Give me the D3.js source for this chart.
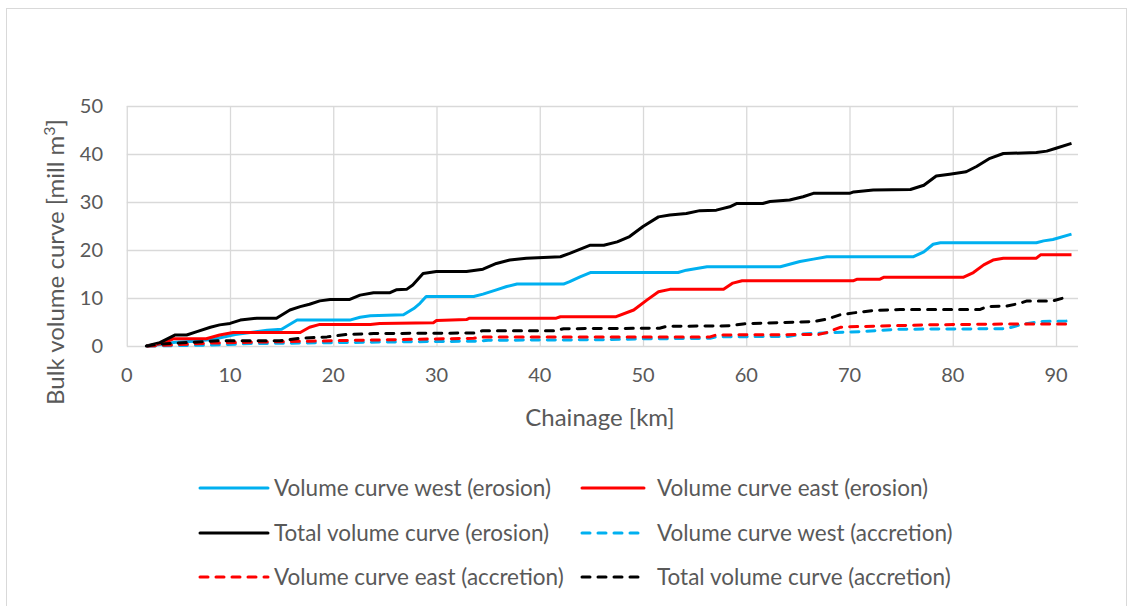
<!DOCTYPE html>
<html>
<head>
<meta charset="utf-8">
<script src="https://cdn.jsdelivr.net/npm/d3@7"></script>
<style>
  body { margin: 0; background: #fff; }
  svg { display: block; font-family: Lato, Calibri, sans-serif; }
  .tick-label, .legend-label, .axis-title { fill: #595959; }
</style>
</head>
<body>
<div id="chart"></div>
<script>
// [chainage km, cumulative volume mill m3]
const westErosion = [
  [2.0, 0], [3.2, 0.3], [4.7, 0.8], [6.5, 1.0], [8.4, 1.4], [10.5, 2.4], [13.6, 3.3], [15.0, 3.5],
  [16.5, 5.4], [21.6, 5.4], [22.6, 6.0], [23.6, 6.3], [26.8, 6.5], [27.8, 7.8], [28.4, 8.9],
  [29.0, 10.3], [33.6, 10.3], [34.5, 10.8], [35.8, 11.7], [36.8, 12.4], [37.8, 12.9], [42.3, 12.9],
  [42.9, 13.4], [43.9, 14.4], [44.9, 15.3], [53.4, 15.3], [54.2, 15.8], [56.2, 16.5], [63.3, 16.5],
  [65.2, 17.6], [66.5, 18.1], [67.8, 18.6], [76.2, 18.6], [77.2, 19.6], [78.1, 21.2], [78.8, 21.5],
  [88.1, 21.5], [88.8, 21.9], [89.7, 22.2], [91.5, 23.3]
];
const eastErosion = [
  [2.0, 0], [3.5, 0.55], [4.5, 1.5], [7.7, 1.5], [9.0, 2.3], [10.3, 2.8], [16.8, 2.8], [17.7, 3.9],
  [18.7, 4.5], [23.6, 4.5], [24.5, 4.7], [29.7, 4.85], [30.0, 5.3], [32.9, 5.5], [33.2, 5.8],
  [41.6, 5.8], [42.0, 6.1], [47.4, 6.1], [49.1, 7.5], [50.4, 9.6], [51.5, 11.3], [52.6, 11.8],
  [57.8, 11.8], [58.7, 13.1], [59.6, 13.6], [70.4, 13.6], [70.7, 13.9], [72.9, 13.9], [73.3, 14.3],
  [81.0, 14.3], [82.0, 15.3], [83.0, 16.9], [83.9, 17.9], [84.9, 18.3], [88.1, 18.3], [88.5, 19.0],
  [91.5, 19.0]
];
const totalErosion = [
  [1.9, 0], [3.2, 0.7], [4.7, 2.3], [5.8, 2.3], [6.8, 3.0], [8.1, 3.9], [9.0, 4.4], [10.0, 4.7],
  [11.0, 5.4], [12.6, 5.8], [14.5, 5.8], [15.8, 7.5], [16.8, 8.2], [17.7, 8.7], [18.7, 9.4],
  [19.7, 9.7], [21.6, 9.7], [22.6, 10.6], [23.9, 11.1], [25.5, 11.1], [26.1, 11.7], [27.1, 11.8],
  [27.7, 12.7], [28.7, 15.1], [30.0, 15.5], [32.9, 15.5], [34.5, 16.0], [35.8, 17.2], [37.1, 17.9],
  [38.7, 18.3], [42.0, 18.6], [42.9, 19.3], [44.9, 21.0], [46.2, 21.0], [47.5, 21.7], [48.7, 22.8],
  [50.0, 24.9], [51.5, 26.9], [52.6, 27.3], [54.2, 27.6], [55.5, 28.2], [57.1, 28.3], [58.4, 29.0],
  [59.1, 29.7], [61.6, 29.7], [62.3, 30.1], [64.2, 30.4], [65.5, 31.1], [66.5, 31.8], [70.0, 31.8],
  [70.4, 32.1], [72.3, 32.5], [75.9, 32.6], [77.2, 33.5], [78.4, 35.4], [79.7, 35.8], [81.3, 36.3],
  [82.3, 37.4], [83.6, 39.1], [84.9, 40.1], [88.1, 40.3], [89.1, 40.6], [90.0, 41.2], [91.5, 42.2]
];
const westAccretion = [
  [2.0, 0], [8.0, 0.2], [12.0, 0.5], [20.0, 0.7], [28.0, 0.9], [34.0, 1.0], [35.0, 1.2], [46.0, 1.3],
  [50.0, 1.5], [56.5, 1.6], [57.1, 1.9], [64.0, 2.0], [65.5, 2.5], [68.4, 2.8], [71.0, 3.0],
  [74.9, 3.5], [85.2, 3.6], [86.5, 4.4], [88.5, 5.1], [91.5, 5.2]
];
const eastAccretion = [
  [2.0, 0], [5.0, 0.3], [8.0, 0.6], [15.0, 0.9], [20.0, 1.1], [28.0, 1.4], [33.6, 1.6], [34.5, 1.9],
  [56.5, 1.9], [57.1, 2.3], [67.0, 2.4], [67.8, 2.8], [69.1, 3.9], [70.0, 4.0], [77.5, 4.4],
  [86.5, 4.6], [91.5, 4.6]
];
const totalAccretion = [
  [1.9, 0], [3.2, 0.4], [9.0, 1.1], [14.8, 1.1], [16.8, 1.6], [19.4, 1.9], [21.3, 2.4], [23.9, 2.6],
  [33.6, 2.7], [34.5, 3.2], [41.6, 3.2], [42.3, 3.6], [51.6, 3.7], [52.3, 4.1], [58.4, 4.2],
  [59.7, 4.6], [62.0, 4.8], [66.5, 5.1], [67.8, 5.6], [69.1, 6.5], [70.4, 6.9], [72.3, 7.4],
  [74.9, 7.6], [82.6, 7.6], [83.3, 8.2], [85.2, 8.3], [86.5, 8.9], [87.2, 9.4], [89.7, 9.4],
  [90.7, 10.0]
];

const xTicks = [0, 10, 20, 30, 40, 50, 60, 70, 80, 90];
const yTicks = [0, 10, 20, 30, 40, 50];

const seriesNames = [
  'Volume curve west (erosion)', 'Volume curve east (erosion)', 'Total volume curve (erosion)',
  'Volume curve west (accretion)', 'Volume curve east (accretion)', 'Total volume curve (accretion)'
];
const seriesData = [westErosion, eastErosion, totalErosion, westAccretion, eastAccretion, totalAccretion];
const seriesColors = ['#00B0F0', '#FF0000', '#000000', '#00B0F0', '#FF0000', '#000000'];
const seriesDashed = [false, false, false, true, true, true];

const width = 1134;
const height = 606;
const margin = { top: 106, right: 56, bottom: 260, left: 126.75 };
const DASH = '8 8';

const svg = d3.select('#chart')
  .append('svg')
  .attr('width', width)
  .attr('height', height);

// chart area frame
svg.append('rect')
  .attr('x', 6.5).attr('y', 8.5)
  .attr('width', 1120).attr('height', 610)
  .attr('fill', 'none')
  .attr('stroke', '#d9d9d9');

const xScale = d3.scaleLinear()
  .domain([0, 92.13])
  .range([margin.left, width - margin.right]);

const yScale = d3.scaleLinear()
  .domain([0, 50])
  .range([height - margin.bottom, margin.top]);

// gridlines
const gridY = svg.append('g')
  .attr('transform', `translate(${margin.left},0)`)
  .call(d3.axisLeft(yScale).tickValues(yTicks).tickFormat('')
    .tickSize(-(xScale.range()[1] - margin.left)));
gridY.select('.domain').remove();
gridY.selectAll('line').attr('stroke', '#d9d9d9').attr('stroke-width', 1.3);

const gridX = svg.append('g')
  .attr('transform', `translate(0,${yScale(0)})`)
  .call(d3.axisBottom(xScale).tickValues(xTicks).tickFormat('')
    .tickSize(-(yScale(0) - margin.top)));
gridX.select('.domain').remove();
gridX.selectAll('line').attr('stroke', '#d9d9d9').attr('stroke-width', 1.3);

// tick labels
svg.append('g')
  .selectAll('text')
  .data(yTicks)
  .join('text')
  .attr('class', 'tick-label')
  .attr('x', 103)
  .attr('y', (d) => yScale(d))
  .attr('dy', '0.35em')
  .attr('text-anchor', 'end')
  .attr('font-size', 20)
  .text((d) => d);

svg.append('g')
  .selectAll('text')
  .data(xTicks)
  .join('text')
  .attr('class', 'tick-label')
  .attr('x', (d) => xScale(d))
  .attr('y', 375)
  .attr('dy', '0.35em')
  .attr('text-anchor', 'middle')
  .attr('font-size', 20)
  .text((d) => d);

// axis titles
svg.append('text')
  .attr('class', 'axis-title')
  .attr('x', 600)
  .attr('y', 418)
  .attr('dy', '0.35em')
  .attr('text-anchor', 'middle')
  .attr('font-size', 24)
  .text('Chainage [km]');

const yTitle = svg.append('text')
  .attr('class', 'axis-title')
  .attr('transform', 'translate(56,262) rotate(-90)')
  .attr('dy', '0.35em')
  .attr('text-anchor', 'middle')
  .attr('font-size', 24);
yTitle.append('tspan').text('Bulk volume curve [mill m');
yTitle.append('tspan').attr('font-size', 16).attr('dy', '-0.6em').text('3');
yTitle.append('tspan').attr('dy', '0.4em').text(']');

// series
const line = d3.line()
  .x((d) => xScale(d[0]))
  .y((d) => yScale(d[1]));

svg.append('g')
  .selectAll('path')
  .data(seriesData)
  .join('path')
  .attr('d', line)
  .attr('fill', 'none')
  .attr('stroke', (d, i) => seriesColors[i])
  .attr('stroke-width', 3)
  .attr('stroke-linejoin', 'round')
  .attr('stroke-linecap', (d, i) => seriesDashed[i] ? 'round' : 'butt')
  .attr('stroke-dasharray', (d, i) => seriesDashed[i] ? DASH : null);

// legend: 2 columns x 3 rows
const legendCols = [200, 582];
const legendRows = [488, 533, 577];
const legend = svg.append('g')
  .selectAll('g')
  .data(seriesNames)
  .join('g')
  .attr('transform', (d, i) => `translate(${legendCols[i % 2]},${legendRows[Math.floor(i / 2)]})`);

legend.append('line')
  .attr('x1', 0).attr('x2', (d, i) => i % 2 ? 62 : 68)
  .attr('stroke', (d, i) => seriesColors[i])
  .attr('stroke-width', 3)
  .attr('stroke-linecap', 'round')
  .attr('stroke-dasharray', (d, i) => seriesDashed[i] ? DASH : null);

legend.append('text')
  .attr('class', 'legend-label')
  .attr('x', (d, i) => i % 2 ? 75 : 74)
  .attr('dy', '0.35em')
  .attr('font-size', 22.5)
  .text((d) => d);
</script>
</body>
</html>
